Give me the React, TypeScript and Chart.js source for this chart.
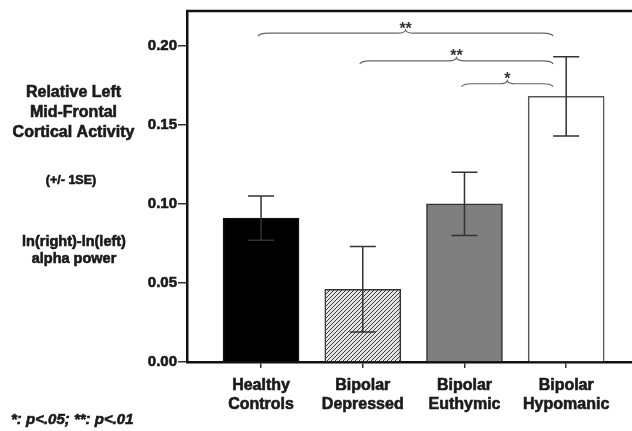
import React, { useEffect, useRef } from "react";
import { Chart, registerables } from "chart.js";

Chart.register(...registerables);

const categoryLabels: string[][] = [
  ["Healthy", "Controls"],
  ["Bipolar", "Depressed"],
  ["Bipolar", "Euthymic"],
  ["Bipolar", "Hypomanic"],
];
const means = [0.091, 0.046, 0.1, 0.168];
const errLow = [0.077, 0.019, 0.08, 0.143];
const errHigh = [0.105, 0.073, 0.12, 0.193];
const yTicks = [0, 0.05, 0.1, 0.15, 0.2];
const brackets = [
  { from: 0, to: 3, level: 0.208, label: "**" },
  { from: 1, to: 3, level: 0.1905, label: "**" },
  { from: 2, to: 3, level: 0.176, label: "*" },
];
const yTitleBlock = ["Relative Left", "Mid-Frontal", "Cortical Activity"];
const yNote = "(+/- 1SE)";
const yUnitBlock = ["ln(right)-ln(left)", "alpha power"];
const footnote = "*: p<.05; **: p<.01";

const FONT = "'Liberation Sans', Arial, sans-serif";
const INK = "#1a1a1a";

function makeHatch(): CanvasPattern | string {
  const c = document.createElement("canvas");
  c.width = 4;
  c.height = 4;
  const g = c.getContext("2d");
  if (!g) return "#bbb";
  g.fillStyle = "#e4e4e4";
  g.fillRect(0, 0, 4, 4);
  g.strokeStyle = "#3a3a3a";
  g.lineWidth = 1;
  g.beginPath();
  g.moveTo(-1, 5);
  g.lineTo(5, -1);
  g.moveTo(-1, 1);
  g.lineTo(1, -1);
  g.moveTo(3, 5);
  g.lineTo(5, 3);
  g.stroke();
  const p = g.createPattern(c, "repeat");
  return p || "#bbb";
}

function boldText(ctx: CanvasRenderingContext2D, t: string, x: number, y: number) {
  ctx.strokeText(t, x, y);
  ctx.fillText(t, x, y);
}

export default function App() {
  const ref = useRef<HTMLCanvasElement | null>(null);

  useEffect(() => {
    if (!ref.current) return;
    const hatch = makeHatch();

    const decor = {
      id: "decor",
      afterDatasetsDraw(chart: any) {
        const ctx = chart.ctx as CanvasRenderingContext2D;
        const xs = chart.scales.x;
        const ys = chart.scales.y;
        const area = chart.chartArea;
        ctx.save();
        // error bars
        ctx.strokeStyle = "#333";
        ctx.lineWidth = 1.5;
        for (let i = 0; i < means.length; i++) {
          const x = xs.getPixelForValue(i);
          const yl = ys.getPixelForValue(errLow[i]);
          const yh = ys.getPixelForValue(errHigh[i]);
          ctx.beginPath();
          ctx.moveTo(x, yl);
          ctx.lineTo(x, yh);
          ctx.moveTo(x - 13, yh);
          ctx.lineTo(x + 13, yh);
          ctx.moveTo(x - 13, yl);
          ctx.lineTo(x + 13, yl);
          ctx.stroke();
        }
        // top frame
        ctx.strokeStyle = "#111";
        ctx.lineWidth = 2.5;
        ctx.beginPath();
        ctx.moveTo(area.left - 1, area.top);
        ctx.lineTo(chart.width, area.top);
        ctx.stroke();
        // brackets
        ctx.strokeStyle = "#666";
        ctx.lineWidth = 1.2;
        ctx.fillStyle = "#333";
        ctx.font = `bold 16px ${FONT}`;
        ctx.textAlign = "center";
        ctx.textBaseline = "middle";
        for (const b of brackets) {
          const x1 = xs.getPixelForValue(b.from) - 3;
          const x2 = xs.getPixelForValue(b.to) - 13;
          const xc = (x1 + x2) / 2;
          const y = ys.getPixelForValue(b.level);
          ctx.beginPath();
          ctx.moveTo(x1, y + 3);
          ctx.quadraticCurveTo(x1 + 2, y, x1 + 10, y);
          ctx.lineTo(xc - 8, y);
          ctx.quadraticCurveTo(xc - 1, y, xc, y - 3);
          ctx.quadraticCurveTo(xc + 1, y, xc + 8, y);
          ctx.lineTo(x2 - 10, y);
          ctx.quadraticCurveTo(x2 - 2, y, x2, y + 3);
          ctx.stroke();
          ctx.fillText(b.label, xc, y - 4);
        }
        // left titles
        ctx.fillStyle = INK;
        ctx.strokeStyle = INK;
        ctx.lineWidth = 0.6;
        ctx.font = `bold 16px ${FONT}`;
        yTitleBlock.forEach((t, i) => boldText(ctx, t, 73.5, 93 + i * 20));
        ctx.font = `bold 12.5px ${FONT}`;
        boldText(ctx, yNote, 71, 181);
        ctx.font = `bold 14.5px ${FONT}`;
        yUnitBlock.forEach((t, i) => boldText(ctx, t, 74, 242 + i * 17));
        ctx.font = `italic bold 15px ${FONT}`;
        ctx.textAlign = "left";
        boldText(ctx, footnote, 11, 420);
        ctx.restore();
      },
    };

    const chart = new Chart(ref.current, {
      type: "bar",
      data: {
        datasets: [
          {
            data: means.map((v, i) => ({ x: i, y: v })),
            backgroundColor: ["#000000", hatch, "#7f7f7f", "#ffffff"] as any,
            borderColor: ["#111", "#333", "#333", "#555"],
            borderWidth: 1.5,
            barThickness: 76,
          },
        ],
      },
      options: {
        animation: false,
        responsive: false,
        layout: { padding: { top: 11, left: 0, right: 0, bottom: 0 } },
        plugins: { legend: { display: false }, tooltip: { enabled: false } },
        scales: {
          x: {
            type: "linear",
            offset: false,
            min: -0.728,
            max: 3.647,
            afterBuildTicks: (s: any) => {
              s.ticks = categoryLabels.map((_, i) => ({ value: i }));
            },
            afterFit: (s: any) => {
              s.height = 69;
            },
            ticks: {
              autoSkip: false,
              maxRotation: 0,
              padding: 8,
              color: INK,
              textStrokeColor: INK,
              textStrokeWidth: 0.6,
              font: { family: FONT, size: 16, weight: "bold", lineHeight: 1.2 },
              callback: (v: any) => categoryLabels[Math.round(Number(v))] || "",
            },
            grid: {
              offset: false,
              drawOnChartArea: false,
              drawTicks: true,
              tickLength: 6,
              color: "#333",
              lineWidth: 1.5,
            },
            border: { color: "#111", width: 2.5 },
          },
          y: {
            min: 0,
            max: 0.222,
            afterBuildTicks: (s: any) => {
              s.ticks = yTicks.map((v) => ({ value: v }));
            },
            afterFit: (s: any) => {
              s.width = 187;
            },
            ticks: {
              padding: 1,
              color: INK,
              textStrokeColor: INK,
              textStrokeWidth: 0.6,
              font: { family: FONT, size: 15, weight: "bold" },
              callback: (v: any) => Number(v).toFixed(2),
            },
            grid: {
              drawOnChartArea: false,
              drawTicks: true,
              tickLength: 9,
              color: "#333",
              lineWidth: 1.5,
            },
            border: { color: "#111", width: 2.5 },
          },
        },
      } as any,
      plugins: [decor],
    });
    return () => chart.destroy();
  }, []);

  return (
    <div style={{ position: "absolute", left: 0, top: 0, width: 632, height: 431, background: "#fff" }}>
      <canvas ref={ref} width={632} height={431} style={{ display: "block" }} />
    </div>
  );
}
